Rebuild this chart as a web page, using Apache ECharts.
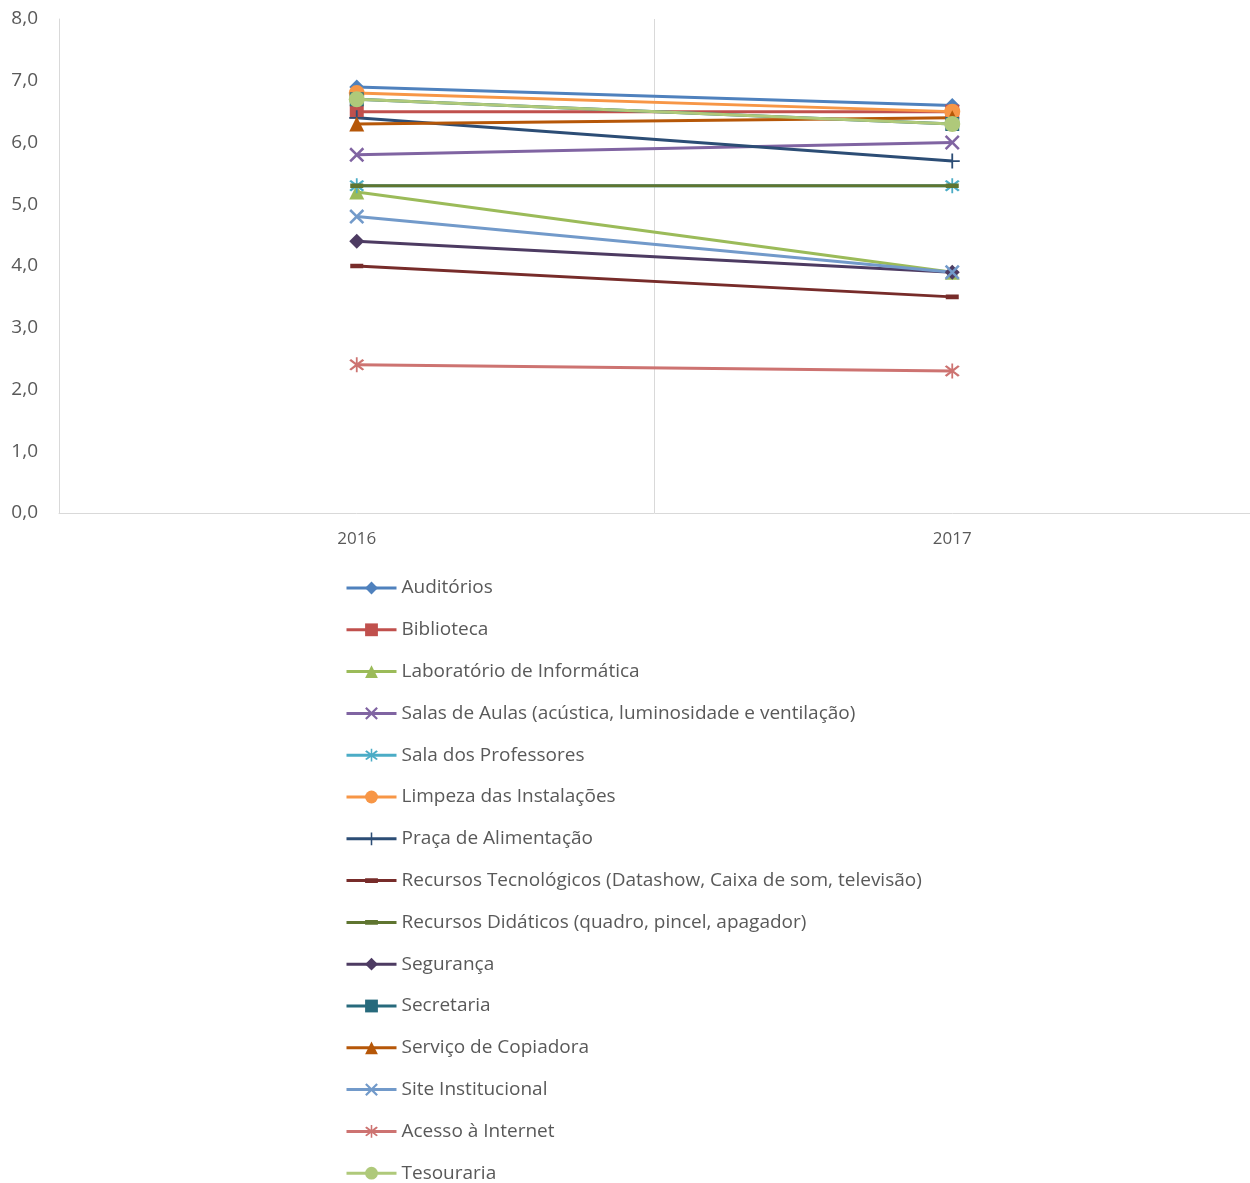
<!DOCTYPE html>
<html>
<head>
<meta charset="utf-8">
<script src="https://cdn.jsdelivr.net/npm/echarts@6/dist/echarts.min.js"></script>
<style>html,body{margin:0;padding:0;background:#fff;}#c{width:1250px;height:1183px;}</style>
</head>
<body>
<div id="c"></div>
<script>
var categories = ['2016', '2017'];
var seriesNames = [
  'Auditórios', 'Biblioteca', 'Laboratório de Informática',
  'Salas de Aulas (acústica, luminosidade e ventilação)', 'Sala dos Professores',
  'Limpeza das Instalações', 'Praça de Alimentação',
  'Recursos Tecnológicos (Datashow, Caixa de som, televisão)',
  'Recursos Didáticos (quadro, pincel, apagador)', 'Segurança', 'Secretaria',
  'Serviço de Copiadora', 'Site Institucional', 'Acesso à Internet', 'Tesouraria'
];
var auditorios = [6.9, 6.6];
var biblioteca = [6.5, 6.5];
var laboratorio = [5.2, 3.9];
var salasAulas = [5.8, 6.0];
var salaProfessores = [5.3, 5.3];
var limpeza = [6.8, 6.5];
var pracaAlimentacao = [6.4, 5.7];
var recursosTecnologicos = [4.0, 3.5];
var recursosDidaticos = [5.3, 5.3];
var seguranca = [4.4, 3.9];
var secretaria = [6.7, 6.3];
var copiadora = [6.3, 6.4];
var siteInstitucional = [4.8, 3.9];
var acessoInternet = [2.4, 2.3];
var tesouraria = [6.7, 6.3];
var yTicks = [0, 1, 2, 3, 4, 5, 6, 7, 8];

var allData = [auditorios, biblioteca, laboratorio, salasAulas, salaProfessores, limpeza,
  pracaAlimentacao, recursosTecnologicos, recursosDidaticos, seguranca, secretaria,
  copiadora, siteInstitucional, acessoInternet, tesouraria];

var colors = ['#4F81BD', '#C0504D', '#9BBB59', '#8064A2', '#4BACC6', '#F79646',
  '#2C4D75', '#772C2A', '#5F7530', '#4D3B62', '#276A7C', '#B65708',
  '#729ACA', '#CD7371', '#AFC97A'];

var X = 'path://M0,1.2L1.2,0L5,3.8L8.8,0L10,1.2L6.2,5L10,8.8L8.8,10L5,6.2L1.2,10L0,8.8L3.8,5Z';
var STAR = 'path://M0,1.2L1.2,0L5,3.8L8.8,0L10,1.2L6.2,5L10,8.8L8.8,10L5,6.2L1.2,10L0,8.8L3.8,5Z M4.4,-1.5H5.6V11.5H4.4Z';
var PLUS = 'path://M4.4,0H5.6V4.4H10V5.6H5.6V10H4.4V5.6H0V4.4H4.4Z';
var DASH = 'path://M0,0L0.01,0L0.01,0.01Z M9.99,9.99L10,9.99L10,10Z M0,3.2H10V6.8H0Z';
var symbols = ['diamond', 'rect', 'triangle', X, STAR, 'circle', PLUS, DASH, DASH,
  'diamond', 'rect', 'triangle', X, STAR, 'circle'];
var sizes = [15, 14, 15, 15, 15, 16, 15, 13, 13, 15, 14, 15, 15, 15, 16];

var series = seriesNames.map(function (n, i) {
  return {
    name: n,
    type: 'line',
    data: allData[i],
    symbol: symbols[i],
    symbolSize: sizes[i],
    showSymbol: true,
    lineStyle: { color: colors[i], width: 3 },
    itemStyle: { color: colors[i], borderColor: colors[i], borderWidth: 0 },
    animation: false,
    emphasis: { disabled: true }
  };
});

var chart = echarts.init(document.getElementById('c'));
chart.setOption({
  animation: false,
  color: colors,
  grid: { left: 59, top: 19, right: 0, bottom: 670, containLabel: false },
  xAxis: {
    type: 'category',
    data: categories,
    boundaryGap: true,
    axisLine: { show: true, lineStyle: { color: '#D9D9D9', width: 1 } },
    axisTick: { show: false },
    splitLine: { show: true, lineStyle: { color: '#D9D9D9', width: 1 } },
    axisLabel: { color: '#595959', fontSize: 17, fontFamily: 'Open Sans', margin: 18 }
  },
  yAxis: {
    type: 'value',
    min: yTicks[0],
    max: yTicks[yTicks.length - 1],
    interval: 1,
    axisLine: { show: true, lineStyle: { color: '#D9D9D9', width: 1 } },
    axisTick: { show: false },
    splitLine: { show: false },
    axisLabel: {
      color: '#595959', fontSize: 19, fontFamily: 'Open Sans', margin: 21,
      formatter: function (v) { return v.toFixed(1).replace('.', ','); }
    }
  },
  legend: {
    orient: 'vertical',
    left: 345,
    top: 578,
    padding: 0,
    height: 620,
    itemWidth: 50,
    itemHeight: 16,
    itemGap: 21.8,
    lineStyle: { width: 3 },
    textStyle: { color: '#595959', fontSize: 19, fontFamily: 'Open Sans', lineHeight: 20 },
    selectedMode: false,
    data: seriesNames
  },
  series: series
});
</script>
</body>
</html>
